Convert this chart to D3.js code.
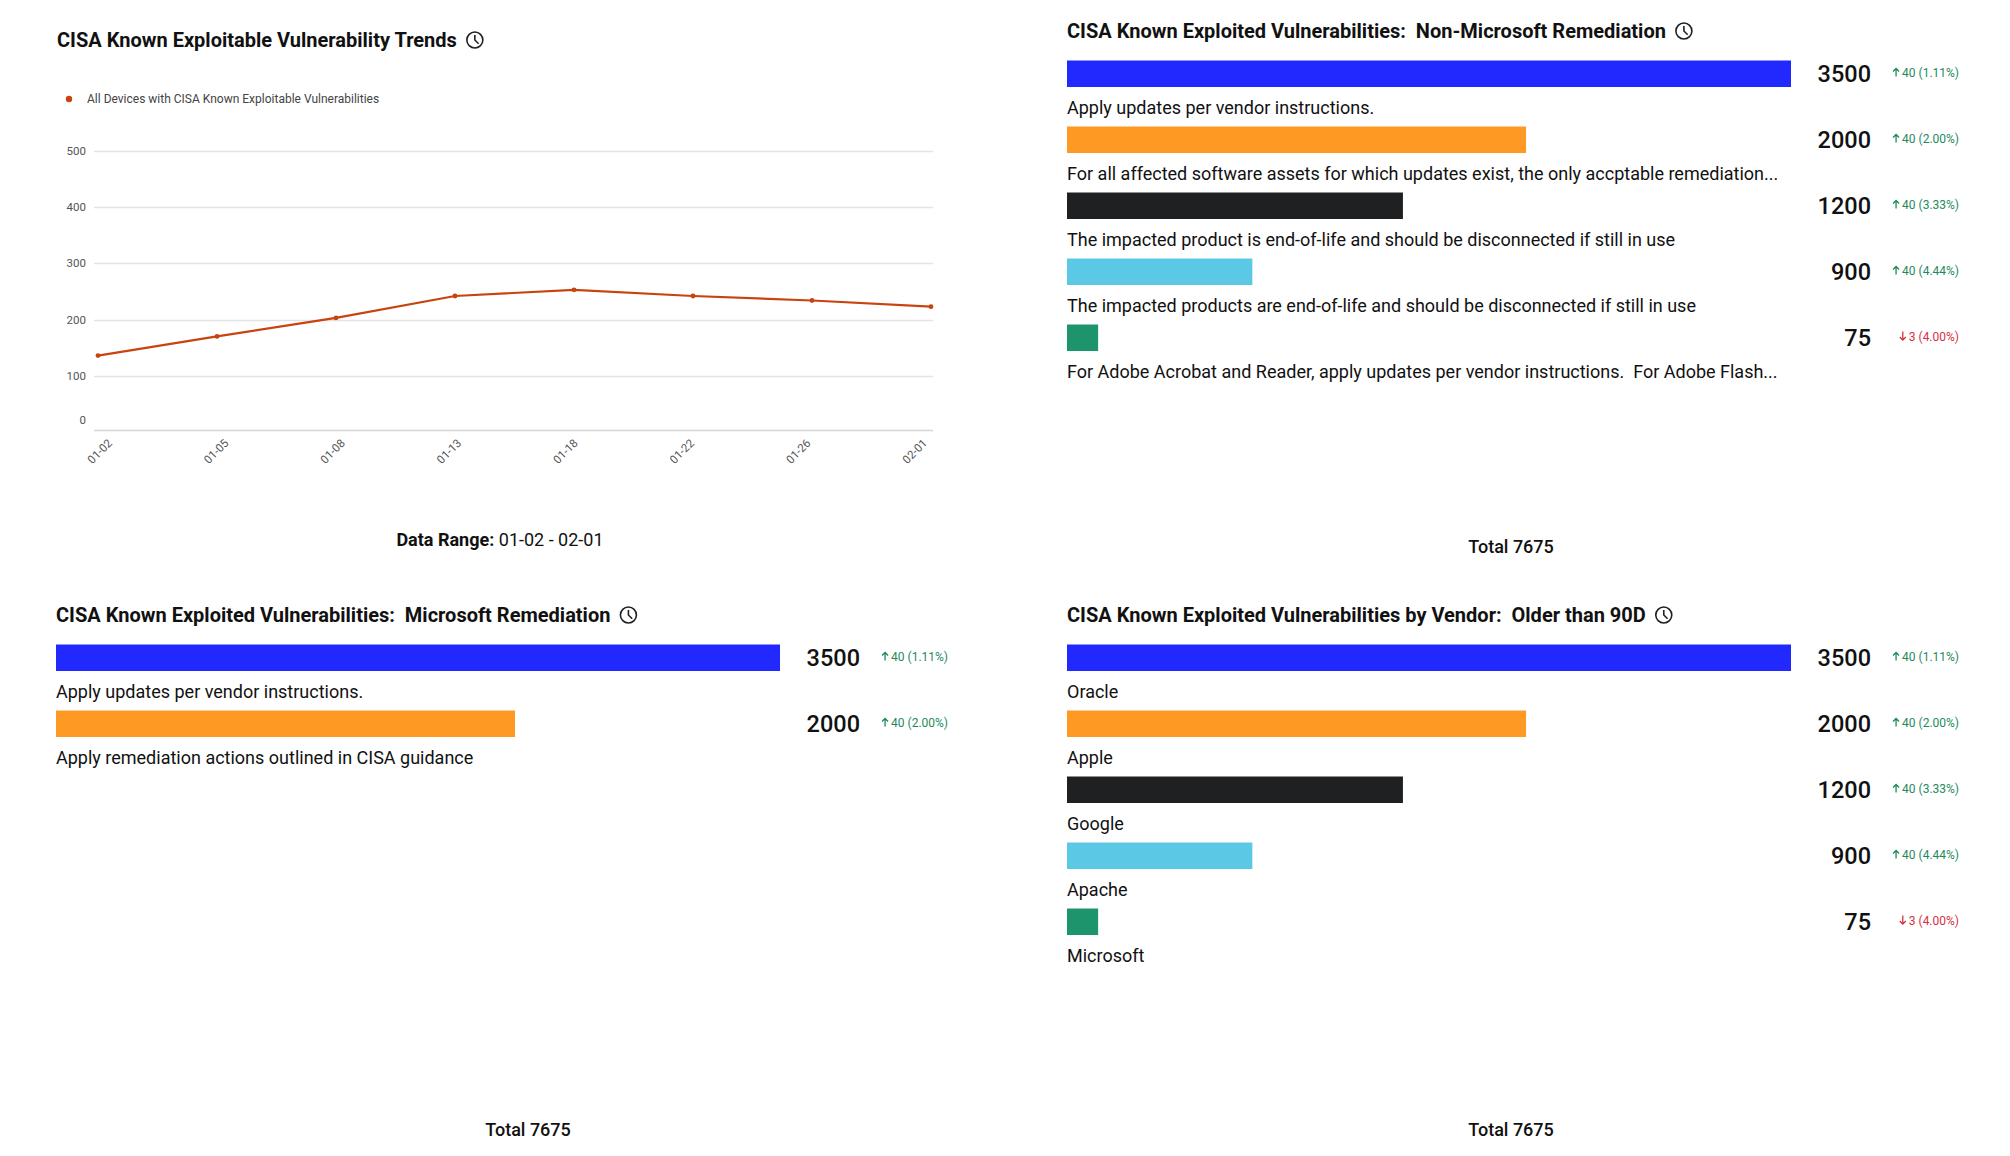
<!DOCTYPE html>
<html>
<head>
<meta charset="utf-8">
<script src="https://cdn.jsdelivr.net/npm/d3@7"></script>
<style>
  html, body { margin: 0; padding: 0; background: #fff; }
  svg { font-family: Roboto, "Noto Sans", sans-serif; display: block; }
  text { white-space: pre; }
</style>
</head>
<body>
<svg id="chart" width="2010" height="1156"></svg>
<script>
// trend line
var trendDates = ["01-02", "01-05", "01-08", "01-13", "01-18", "01-22", "01-26", "02-01"];
var trendValues = [136, 170, 203, 242, 253, 242, 234, 223];
var trendTicks = [0, 100, 200, 300, 400, 500];
var trendSeries = "All Devices with CISA Known Exploitable Vulnerabilities";

// non-microsoft remediation
var nonMsLabels = [
  "Apply updates per vendor instructions.",
  "For all affected software assets for which updates exist, the only accptable remediation...",
  "The impacted product is end-of-life and should be disconnected if still in use",
  "The impacted products are end-of-life and should be disconnected if still in use",
  "For Adobe Acrobat and Reader, apply updates per vendor instructions.  For Adobe Flash..."
];
var nonMsCounts = [3500, 2000, 1200, 900, 75];
var nonMsShare = [100, 63.4, 46.4, 25.6, 4.3];   // bar fill %, as shown
var nonMsChange = [40, 40, 40, 40, -3];
var nonMsChangePct = ["1.11%", "2.00%", "3.33%", "4.44%", "4.00%"];

// microsoft remediation
var msLabels = [
  "Apply updates per vendor instructions.",
  "Apply remediation actions outlined in CISA guidance"
];
var msCounts = [3500, 2000];
var msShare = [100, 63.4];
var msChange = [40, 40];
var msChangePct = ["1.11%", "2.00%"];

// vendors older than 90 days
var vendorLabels = ["Oracle", "Apple", "Google", "Apache", "Microsoft"];
var vendorCounts = [3500, 2000, 1200, 900, 75];
var vendorShare = [100, 63.4, 46.4, 25.6, 4.3];
var vendorChange = [40, 40, 40, 40, -3];
var vendorChangePct = ["1.11%", "2.00%", "3.33%", "4.44%", "4.00%"];

var totalCount = 7675;
var barColors = ["#2129ff", "#fe9a24", "#1f2022", "#5bc9e6", "#1e946c"];

var svg = d3.select("#chart");

function DrawClock(g, x, y)
{
    var clock = g.append("g").attr("transform", "translate(" + x + "," + y + ")");
    clock.append("circle")
    .attr("r", 8)
    .style("fill", "none")
    .style("stroke", "#202124")
    .style("stroke-width", 1.6);
    clock.append("path")
    .attr("d", "M0,-5 L0,0 L3.8,3.8")
    .style("fill", "none")
    .style("stroke", "#202124")
    .style("stroke-width", 1.6);
}

function DrawTitle(x, y, label)
{
    var t = svg.append("text")
    .attr("x", x)
    .attr("y", y)
    .style("font-size", "20px")
    .style("font-weight", 700)
    .style("fill", "#111")
    .text(label);
    var w = t.node().getComputedTextLength();
    DrawClock(svg, x + w + 18, y - 7);
}

function DrawTrend()
{
    DrawTitle(57, 47, "CISA Known Exploitable Vulnerability Trends");

    var g = svg.append("g").attr("id", "trend");

    g.append("circle")
    .attr("cx", 69).attr("cy", 99).attr("r", 3.2)
    .style("fill", "#c8430f");
    g.append("text")
    .attr("x", 87).attr("y", 103)
    .style("font-size", "12px")
    .style("fill", "#444")
    .text(trendSeries);

    var x = d3.scalePoint().domain(trendDates).range([98, 931]);
    var xLabel = d3.scalePoint().domain(trendDates).range([110, 925]);
    var y = d3.scaleLinear().domain([0, 500]).range([432, 151]);

    g.append("g").selectAll("line")
    .data(trendTicks)
    .join("line")
    .attr("x1", 94).attr("x2", 933)
    .attr("y1", function(d) { return d === 0 ? 430.5 : Math.round(y(d)) + 0.5; })
    .attr("y2", function(d) { return d === 0 ? 430.5 : Math.round(y(d)) + 0.5; })
    .style("stroke", function(d) { return d === 0 ? "#d6d6d6" : "#e4e4e4"; })
    .style("stroke-width", 1.5);

    g.append("g").selectAll("text")
    .data(trendTicks)
    .join("text")
    .attr("x", 86)
    .attr("y", function(d) { return d === 0 ? y(d) - 12 : y(d); })
    .attr("dy", "0.35em")
    .attr("text-anchor", "end")
    .style("font-size", "11.5px")
    .style("fill", "#555")
    .text(function(d) { return d; });

    g.append("g").selectAll("text")
    .data(trendDates)
    .join("text")
    .attr("transform", function(d) { return "translate(" + xLabel(d) + ",441) rotate(-45)"; })
    .attr("text-anchor", "end")
    .attr("dy", "0.35em")
    .style("font-size", "11.5px")
    .style("fill", "#555")
    .text(function(d) { return d; });

    var line = d3.line()
    .x(function(d, i) { return x(trendDates[i]); })
    .y(function(d) { return y(d); });

    g.append("path")
    .datum(trendValues)
    .attr("d", line)
    .style("fill", "none")
    .style("stroke", "#c8430f")
    .style("stroke-width", 2.2);

    g.append("g").selectAll("circle")
    .data(trendValues)
    .join("circle")
    .attr("cx", function(d, i) { return x(trendDates[i]); })
    .attr("cy", function(d) { return y(d); })
    .attr("r", 2.4)
    .style("fill", "#c8430f");

    var range = g.append("text")
    .attr("x", 500).attr("y", 546)
    .attr("text-anchor", "middle")
    .style("font-size", "18px")
    .style("fill", "#111");
    range.append("tspan").style("font-weight", 700).text("Data Range: ");
    range.append("tspan").text(trendDates[0] + " - " + trendDates[trendDates.length - 1]);
}

function DrawBarList(x0, titleY, title, labels, counts, share, change, changePct, totalX, totalY)
{
    DrawTitle(x0, titleY, title);

    var g = svg.append("g");
    var barTop = titleY + 22.5;
    var trackWidth = 724;

    var y = d3.scaleBand()
    .domain(d3.range(labels.length))
    .range([barTop, barTop + 66 * labels.length]);

    var w = d3.scaleLinear().domain([0, 100]).range([0, trackWidth]);

    var rows = g.selectAll("g.row")
    .data(labels)
    .join("g")
    .attr("class", "row")
    .attr("transform", function(d, i) { return "translate(0," + y(i) + ")"; });

    rows.append("rect")
    .attr("x", x0)
    .attr("y", 0)
    .attr("width", function(d, i) { return w(share[i]); })
    .attr("height", 26.5)
    .style("fill", function(d, i) { return barColors[i]; });

    rows.append("text")
    .attr("x", x0)
    .attr("y", 53.5)
    .style("font-size", "18px")
    .style("fill", "#111")
    .text(function(d) { return d; });

    rows.append("text")
    .attr("x", x0 + trackWidth + 80)
    .attr("y", 21)
    .attr("text-anchor", "end")
    .style("font-size", "23.5px")
    .style("font-weight", 500)
    .style("fill", "#111")
    .text(function(d, i) { return counts[i]; });

    rows.each(function(d, i) {
        var row = d3.select(this);
        var up = change[i] >= 0;
        var colour = up ? "#1e8a5c" : "#d6313f";
        var right = x0 + trackWidth + 168;
        var t = row.append("text")
        .attr("x", right)
        .attr("y", 16.5)
        .attr("text-anchor", "end")
        .style("font-size", "12px")
        .style("fill", colour)
        .text(Math.abs(change[i]) + " (" + changePct[i] + ")");
        var ax = right - t.node().getComputedTextLength() - 6;
        var arrow = up
            ? "M" + ax + ",16 L" + ax + ",8 M" + (ax - 3) + ",11 L" + ax + ",8 L" + (ax + 3) + ",11"
            : "M" + ax + ",7 L" + ax + ",15.5 M" + (ax - 3) + ",12.5 L" + ax + ",15.5 L" + (ax + 3) + ",12.5";
        row.append("path")
        .attr("d", arrow)
        .style("fill", "none")
        .style("stroke", colour)
        .style("stroke-width", 1.3);
    });

    g.append("text")
    .attr("x", totalX).attr("y", totalY)
    .attr("text-anchor", "middle")
    .style("font-size", "18px")
    .style("font-weight", 500)
    .style("fill", "#111")
    .text("Total " + totalCount);
}

DrawTrend();
DrawBarList(1067, 38, "CISA Known Exploited Vulnerabilities:  Non-Microsoft Remediation",
    nonMsLabels, nonMsCounts, nonMsShare, nonMsChange, nonMsChangePct, 1511, 553);
DrawBarList(56, 622, "CISA Known Exploited Vulnerabilities:  Microsoft Remediation",
    msLabels, msCounts, msShare, msChange, msChangePct, 528, 1136);
DrawBarList(1067, 622, "CISA Known Exploited Vulnerabilities by Vendor:  Older than 90D",
    vendorLabels, vendorCounts, vendorShare, vendorChange, vendorChangePct, 1511, 1136);
</script>
</body>
</html>
